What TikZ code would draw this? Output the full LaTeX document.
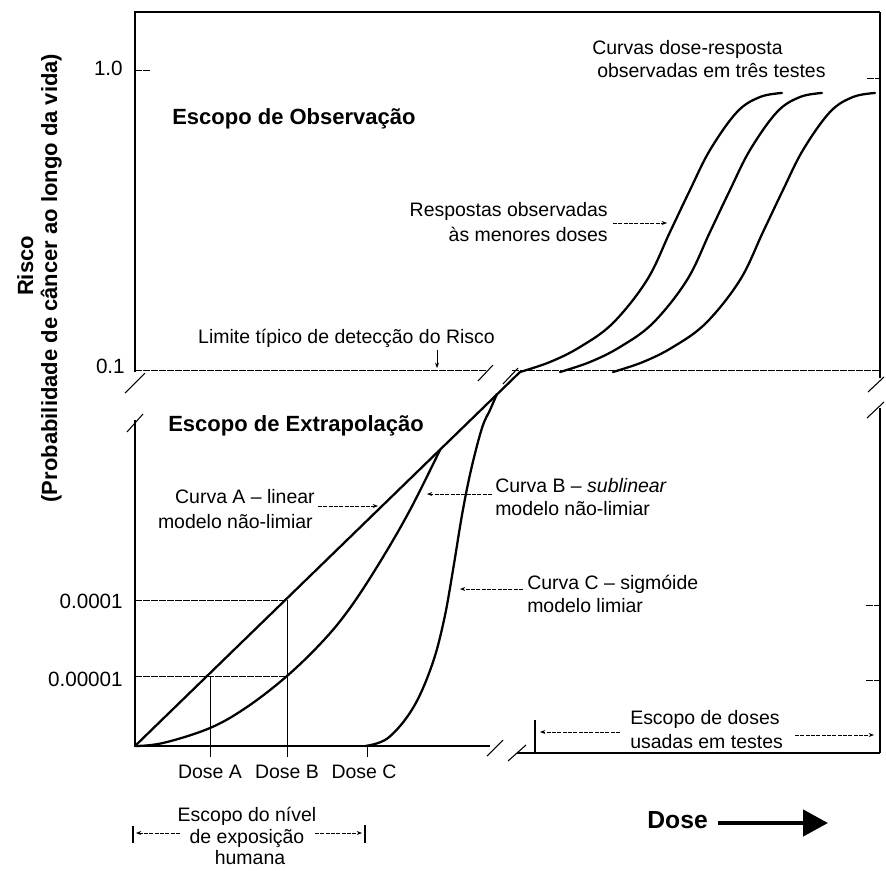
\documentclass[tikz,border=0pt]{standalone}
\usepackage{fontspec}
\setmainfont{Liberation Sans}
\usetikzlibrary{arrows.meta}
\begin{document}
\begin{tikzpicture}[x=0.75pt,y=-0.75pt,
  crv/.style={line width=1.7pt,line join=round,line cap=round},
  axln/.style={line width=0.8pt},
  guide/.style={line width=0.5pt,dash pattern=on 5pt off 1pt},
  brk/.style={line width=0.8pt},
  ptr/.style={line width=0.5pt,dash pattern=on 3pt off 1pt,-{Stealth[length=4pt,width=3pt]}},
  vbar/.style={line width=0.8pt},
  txt/.style={inner sep=0pt,font=\fontsize{14.6}{17}\selectfont},
  num/.style={inner sep=0pt,font=\fontsize{15.5}{18}\selectfont,anchor=base east},
  hd/.style={inner sep=0pt,font=\bfseries\fontsize{16.5}{19}\selectfont},
]
\useasboundingbox (0,0) rectangle (886,871);

% frame and axes
\draw[axln] (135,372) -- (135,12) -- (880,12);
\draw[axln,line width=1.3pt] (880,12) -- (880,378);
\draw[axln] (135,420) -- (135,746) -- (490,746);
\draw[axln] (517,753) -- (880,753);
\draw[axln,line width=1.3pt] (880,753) -- (880,408);

% break marks
\draw[brk] (125,393) -- (145,373);
\draw[brk] (127,432) -- (143,414);
\draw[brk] (868,392) -- (884,377);
\draw[brk] (867,418) -- (884,402);
\draw[brk] (478,381) -- (493,365);
\draw[brk] (503,384) -- (518,368);
\draw[brk] (487,756) -- (503,740);
\draw[brk] (508,761) -- (526,745);

% guide lines and ticks
\draw[guide] (135,370) -- (486,370);
\draw[guide] (512,370) -- (880,370);
\draw[guide] (135,70) -- (150,70);
\draw[guide] (867,78) -- (880,78);
\draw[guide] (866,605) -- (880,605);
\draw[guide] (866,680) -- (880,680);
\draw[guide] (135,600) -- (287,600);
\draw[guide] (135,676) -- (287,676);
\draw[line width=0.5pt] (287,600) -- (287,757);
\draw[line width=0.5pt] (210,676) -- (210,757);
\draw[line width=0.5pt] (367,746) -- (367,757);

% curve A (linear)
\draw[crv] (135,746) -- (520,372);
% curve B (sublinear)
\draw[crv] plot[smooth,tension=0.6] coordinates {(135,746) (163,743) (210,728) (247,707) (287,676) (323,641) (350,608) (380,562) (410,510) (440,450)};
% curve C (sigmoid)
\draw[crv] plot[smooth,tension=0.6] coordinates {(365,746) (388,738) (413,708) (432,665) (444,620) (453,570) (462,515) (471,470) (482,428) (490,410) (497,394)};

% observed dose-response curves
\foreach \s in {0,40,93}{
  \begin{scope}[xshift=\s*0.75pt]
    \draw[crv] plot[smooth,tension=0.6] coordinates {(520,372) (550,362) (580,347) (613,323) (647,280) (670,232) (690,190) (710,150) (737,112) (760,97) (782,93)};
  \end{scope}
}

% tick labels
\node[num] (l10) at (123,75) {1.0};
\node[num] (l01) at (125,373) {0.1};
\node[num] (l4) at (123,608) {0.0001};
\node[num] (l5) at (123,686) {0.00001};

% y label
\node[hd,rotate=90,anchor=base] (risco) at (33,266) {Risco};
\node[hd,rotate=90,anchor=base] (prob) at (57,278) {(Probabilidade de câncer ao longo da vida)};

% headings
\node[hd,anchor=base west] (obs) at (172,124) {Escopo de Observação};
\node[hd,anchor=base west] (ext) at (168,431) {Escopo de Extrapolação};

% upper right text
\node[txt,anchor=base west] (cdr1) at (592,54) {Curvas dose-resposta};
\node[txt,anchor=base west] (cdr2) at (597,77) {observadas em três testes};

\node[txt,anchor=base east] (resp1) at (608,216) {Respostas observadas};
\node[txt,anchor=base east] (resp2) at (608,241) {às menores doses};
\coordinate (respTail) at (613,223);
\coordinate (respTip) at (667,223);
\draw[ptr] (respTail) -- (respTip);

\node[txt,anchor=base east] (lim) at (495,343) {Limite típico de detecção do Risco};
\coordinate (limTail) at (437,350);
\coordinate (limTip) at (437,368);
\draw[ptr,dash pattern=] (limTail) -- (limTip);

% curve labels
\node[txt,anchor=base east] (ca1) at (315,503) {Curva A – linear};
\node[txt,anchor=base east] (ca2) at (313,528) {modelo não-limiar};
\coordinate (caTail) at (318,506);
\coordinate (caTip) at (378,506);
\draw[ptr] (caTail) -- (caTip);

\node[txt,anchor=base west] (cb1) at (495,492) {Curva B – \textit{sublinear}};
\node[txt,anchor=base west] (cb2) at (495,515) {modelo não-limiar};
\coordinate (cbTail) at (492,494);
\coordinate (cbTip) at (427,494);
\draw[ptr] (cbTail) -- (cbTip);

\node[txt,anchor=base west] (cc1) at (527,589) {Curva C – sigmóide};
\node[txt,anchor=base west] (cc2) at (527,612) {modelo limiar};
\coordinate (ccTail) at (523,589);
\coordinate (ccTip) at (460,589);
\draw[ptr] (ccTail) -- (ccTip);

% scope of test doses
\node[txt,anchor=base west] (ed1) at (630,724) {Escopo de doses};
\node[txt,anchor=base west] (ed2) at (630,748) {usadas em testes};
\draw[vbar] (535,720) -- (535,753);
\coordinate (edLT) at (620,732);
\coordinate (edLH) at (540,732);
\coordinate (edRT) at (795,735);
\coordinate (edRH) at (874,735);
\draw[ptr] (edLT) -- (edLH);
\draw[ptr] (edRT) -- (edRH);

% dose labels
\node[txt,anchor=base] (dA) at (210,778) {Dose A};
\node[txt,anchor=base] (dB) at (287,778) {Dose B};
\node[txt,anchor=base] (dC) at (364,778) {Dose C};

% human exposure scope
\node[txt,anchor=base] (hx1) at (247,821) {Escopo do nível};
\node[txt,anchor=base] (hx2) at (247,843) {de exposição};
\node[txt,anchor=base] (hx3) at (250,864) {humana};
\draw[vbar] (133,826) -- (133,843);
\draw[vbar] (365,825) -- (365,843);
\coordinate (hxLT) at (180,833);
\coordinate (hxLH) at (136,833);
\coordinate (hxRT) at (315,833);
\coordinate (hxRH) at (362,833);
\draw[ptr] (hxLT) -- (hxLH);
\draw[ptr] (hxRT) -- (hxRH);

% Dose arrow
\node[inner sep=0pt,font=\bfseries\fontsize{18.5}{21}\selectfont,anchor=base east] (dose) at (708,828) {Dose};
\coordinate (doseTail) at (718,823);
\coordinate (doseTip) at (828,823);
\draw[line width=3.5pt,-{Triangle[length=18.75pt,width=19.5pt]}] (doseTail) -- (doseTip);
\end{tikzpicture}
\end{document}
